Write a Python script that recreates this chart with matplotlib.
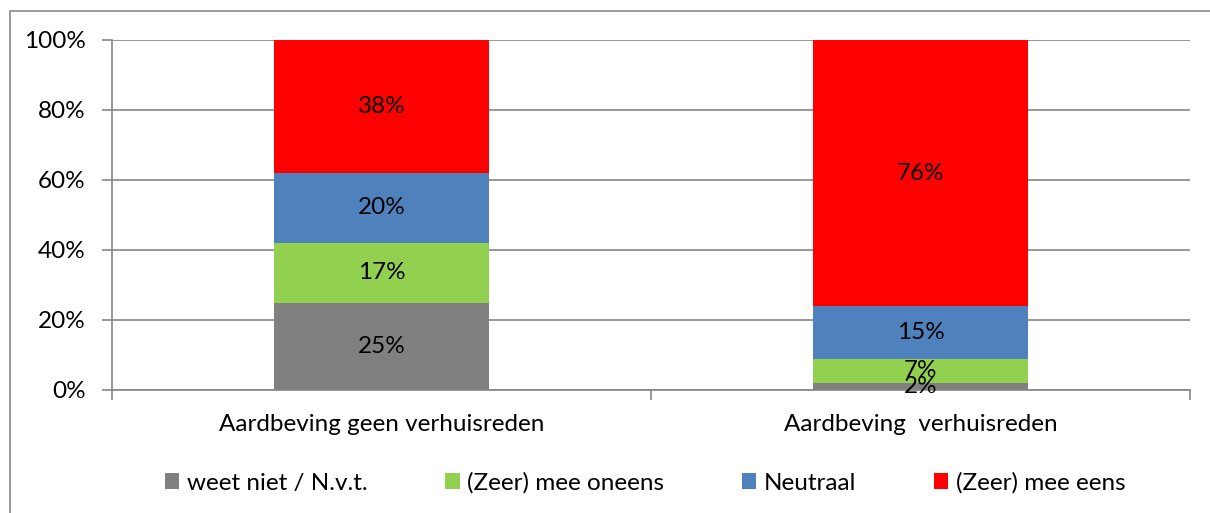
import matplotlib
matplotlib.use("Agg")
import matplotlib.pyplot as plt
from matplotlib.patches import Rectangle, Patch
from matplotlib.ticker import FixedLocator, PercentFormatter

plt.rcParams['font.family'] = ['Lato', 'DejaVu Sans']

categories = ["Aardbeving geen verhuisreden", "Aardbeving  verhuisreden"]
series_names = ["weet niet / N.v.t.", "(Zeer) mee oneens", "Neutraal", "(Zeer) mee eens"]
series_values = [
    [25, 2],
    [17, 7],
    [20, 15],
    [38, 76],
]
series_colors = ["#808080", "#92D050", "#4F81BD", "#FF0000"]
y_ticks = [0, 20, 40, 60, 80, 100]

W, H = 1210, 513
fig = plt.figure(figsize=(W / 100, H / 100), dpi=100)
ax = fig.add_axes([112 / W, 1 - 390 / H, (1190 - 112) / W, (390 - 40) / H])

grid_col = "#868686"
fs = 17.5
x = list(range(len(categories)))
bottoms = [0] * len(categories)
for name, vals, col in zip(series_names, series_values, series_colors):
    ax.bar(x, vals, width=0.4, bottom=bottoms, color=col, zorder=2, label=name)
    for xi, v, b in zip(x, vals, bottoms):
        ax.text(xi, b + v / 2, f"{v}%", ha="center", va="center",
                fontsize=fs, color="black", zorder=3)
    bottoms = [b + v for b, v in zip(bottoms, vals)]

ax.set_xlim(-0.5, 1.5)
ax.set_ylim(0, 100)
ax.yaxis.set_major_locator(FixedLocator(y_ticks))
ax.yaxis.set_major_formatter(PercentFormatter(decimals=0))
ax.grid(axis="y", color=grid_col, linewidth=1.2, zorder=0)

ax.set_xticks([-0.5, 0.5, 1.5])
ax.set_xticklabels([])
ax.set_xticks(x, minor=True)
ax.set_xticklabels(categories, minor=True, fontsize=fs)
ax.tick_params(axis="x", which="minor", length=0, pad=17)
ax.tick_params(axis="x", which="major", length=7, width=1.2, color=grid_col)
ax.tick_params(axis="y", length=7, width=1.2, color=grid_col, labelsize=fs, pad=12)

for s in ["top", "right"]:
    ax.spines[s].set_visible(False)
for s in ["left", "bottom"]:
    ax.spines[s].set_color(grid_col)
    ax.spines[s].set_linewidth(1.2)

handles = [Patch(facecolor=c, edgecolor="none") for c in series_colors]
fig.legend(handles, series_names, loc="center", bbox_to_anchor=(645 / W, 1 - 483 / H),
           ncol=4, frameon=False, fontsize=fs, handlelength=0.6, handleheight=0.6,
           handletextpad=0.3, columnspacing=3.2)

fig.add_artist(Rectangle((10 / W, -0.2), 1.5, 1.2 - 11 / H, transform=fig.transFigure,
                         fill=False, edgecolor=grid_col, linewidth=1.2))

fig.savefig("out.png", dpi=100)
